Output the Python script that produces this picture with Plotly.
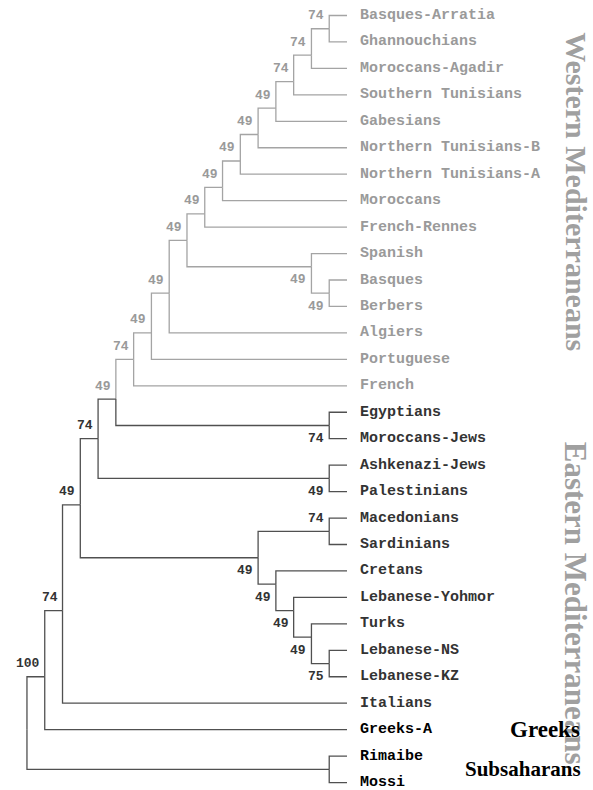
import plotly.graph_objects as go

# Consensus tree (Newick) with bootstrap support on internal nodes
newick = (
    "((((((((((((((((((Basques-Arratia,Ghannouchians)74,Moroccans-Agadir)74,"
    "Southern Tunisians)74,Gabesians)49,Northern Tunisians-B)49,"
    "Northern Tunisians-A)49,Moroccans)49,French-Rennes)49,"
    "(Spanish,(Basques,Berbers)49)49)49,Algiers)49,Portuguese)49,French)74,"
    "(Egyptians,Moroccans-Jews)74)49,(Ashkenazi-Jews,Palestinians)49)74,"
    "((Macedonians,Sardinians)74,(Cretans,(Lebanese-Yohmor,(Turks,"
    "(Lebanese-NS,Lebanese-KZ)75)49)49)49)49)49,Italians)74,Greeks-A)100,"
    "(Rimaibe,Mossi));"
)

# Leaf groups in top-to-bottom order
group_names = ["Western Mediterraneans", "Eastern Mediterraneans", "Greeks", "Subsaharans"]
group_sizes = [15, 12, 1, 2]

LINE_LIGHT = "#a4a4a4"
LINE_DARK = "#505050"
TEXT_LIGHT = "#9a9a9a"
TEXT_DARK = "#333333"
TEXT_BLACK = "#000000"
group_text = [TEXT_LIGHT, TEXT_DARK, TEXT_BLACK, TEXT_BLACK]


def parse(s):
    pos = 0

    def read_label():
        nonlocal pos
        start = pos
        while s[pos] not in ",();":
            pos += 1
        return s[start:pos].strip()

    def clade():
        nonlocal pos
        node = {"children": [], "name": "", "support": ""}
        if s[pos] == "(":
            pos += 1
            while True:
                node["children"].append(clade())
                if s[pos] == ",":
                    pos += 1
                else:
                    pos += 1
                    break
            node["support"] = read_label()
        else:
            node["name"] = read_label()
        return node

    return clade()


root = parse(newick)

leaf_group = []
for gi, n in enumerate(group_sizes):
    leaf_group += [gi] * n

leaves = []


def layout(n):
    """Cladogram layout: level = steps from the tips, y in half-row units."""
    if not n["children"]:
        row = len(leaves)
        n.update(level=0, h=2 * row, size=1, groups={leaf_group[row]}, row=row)
        leaves.append(n)
        return
    for c in n["children"]:
        layout(c)
    a, b = n["children"][0], n["children"][-1]
    n["level"] = max(c["level"] for c in n["children"]) + 1
    n["size"] = sum(c["size"] for c in n["children"])
    n["groups"] = set().union(*[c["groups"] for c in n["children"]])
    tot = a["h"] + b["h"]
    if tot % 2 == 0:
        n["h"] = tot // 2
    else:
        # off-grid midpoint: lean towards the smaller clade
        n["h"] = tot // 2 if a["size"] < b["size"] else tot // 2 + 1


layout(root)


def y_of(n):
    return n["h"] / 2.0


def line_color(n):
    return LINE_LIGHT if n["groups"] == {0} else LINE_DARK


segs = {LINE_LIGHT: ([], []), LINE_DARK: ([], [])}
support_notes = []


def collect(n):
    if not n["children"]:
        return
    xp, yp = n["level"], y_of(n)
    kids = n["children"]
    for i, c in enumerate(kids):
        xs, ys = segs[line_color(c)]
        yc = y_of(c)
        xs += [xp, xp, c["level"], None]
        ys += [yp, yc, yc, None]
        if c["children"] and c["support"]:
            above = i == 0
            edge = c["children"][0] if above else c["children"][-1]
            support_notes.append(dict(
                x=c["level"], y=y_of(c), text=c["support"],
                yshift=13 if above else -13,
                color=TEXT_LIGHT if edge["groups"] == {0} else TEXT_DARK,
            ))
        collect(c)


collect(root)

fig = go.Figure()
for col, (xs, ys) in segs.items():
    fig.add_trace(go.Scatter(x=xs, y=ys, mode="lines",
                             line=dict(color=col, width=1.3),
                             hoverinfo="skip", showlegend=False))

annotations = []
for lf in leaves:
    annotations.append(dict(
        x=0, y=lf["row"], xref="x", yref="y", text=lf["name"],
        showarrow=False, xanchor="left", yanchor="middle", xshift=11,
        font=dict(family="Liberation Mono", size=15,
                  color=group_text[leaf_group[lf["row"]]], weight="bold"),
    ))

for s in support_notes:
    annotations.append(dict(
        x=s["x"], y=s["y"], xref="x", yref="y", text=s["text"],
        showarrow=False, xanchor="right", yanchor="middle",
        xshift=-3, yshift=s["yshift"],
        font=dict(family="Liberation Mono", size=13, color=s["color"], weight="bold"),
    ))

# Group captions
annotations += [
    dict(x=0.971, y=0.757, xref="paper", yref="paper", text=group_names[0],
         textangle=90, showarrow=False, xanchor="center", yanchor="middle",
         font=dict(family="Liberation Serif", size=30, color="#a0a0a0", weight="bold")),
    dict(x=0.971, y=0.236, xref="paper", yref="paper", text=group_names[1],
         textangle=90, showarrow=False, xanchor="center", yanchor="middle",
         font=dict(family="Liberation Serif", size=31, color="#a0a0a0", weight="bold")),
    dict(x=0.981, y=27, xref="paper", yref="y", text=group_names[2],
         showarrow=False, xanchor="right", yanchor="middle",
         font=dict(family="Liberation Serif", size=23, color=TEXT_BLACK, weight="bold")),
    dict(x=0.983, y=28.5, xref="paper", yref="y", text=group_names[3],
         showarrow=False, xanchor="right", yanchor="middle",
         font=dict(family="Liberation Serif", size=21, color=TEXT_BLACK, weight="bold")),
]

X0, DX = 347.0, 17.78
Y0, DY = 15.5, 26.45
fig.update_layout(
    width=593, height=790,
    margin=dict(l=0, r=0, t=0, b=0),
    paper_bgcolor="white", plot_bgcolor="white",
    xaxis=dict(range=[X0 / DX, (X0 - 593) / DX], visible=False, fixedrange=True),
    yaxis=dict(range=[(790 - Y0) / DY, -Y0 / DY], visible=False, fixedrange=True),
    annotations=annotations,
    showlegend=False,
)

fig.write_html("out.html")
